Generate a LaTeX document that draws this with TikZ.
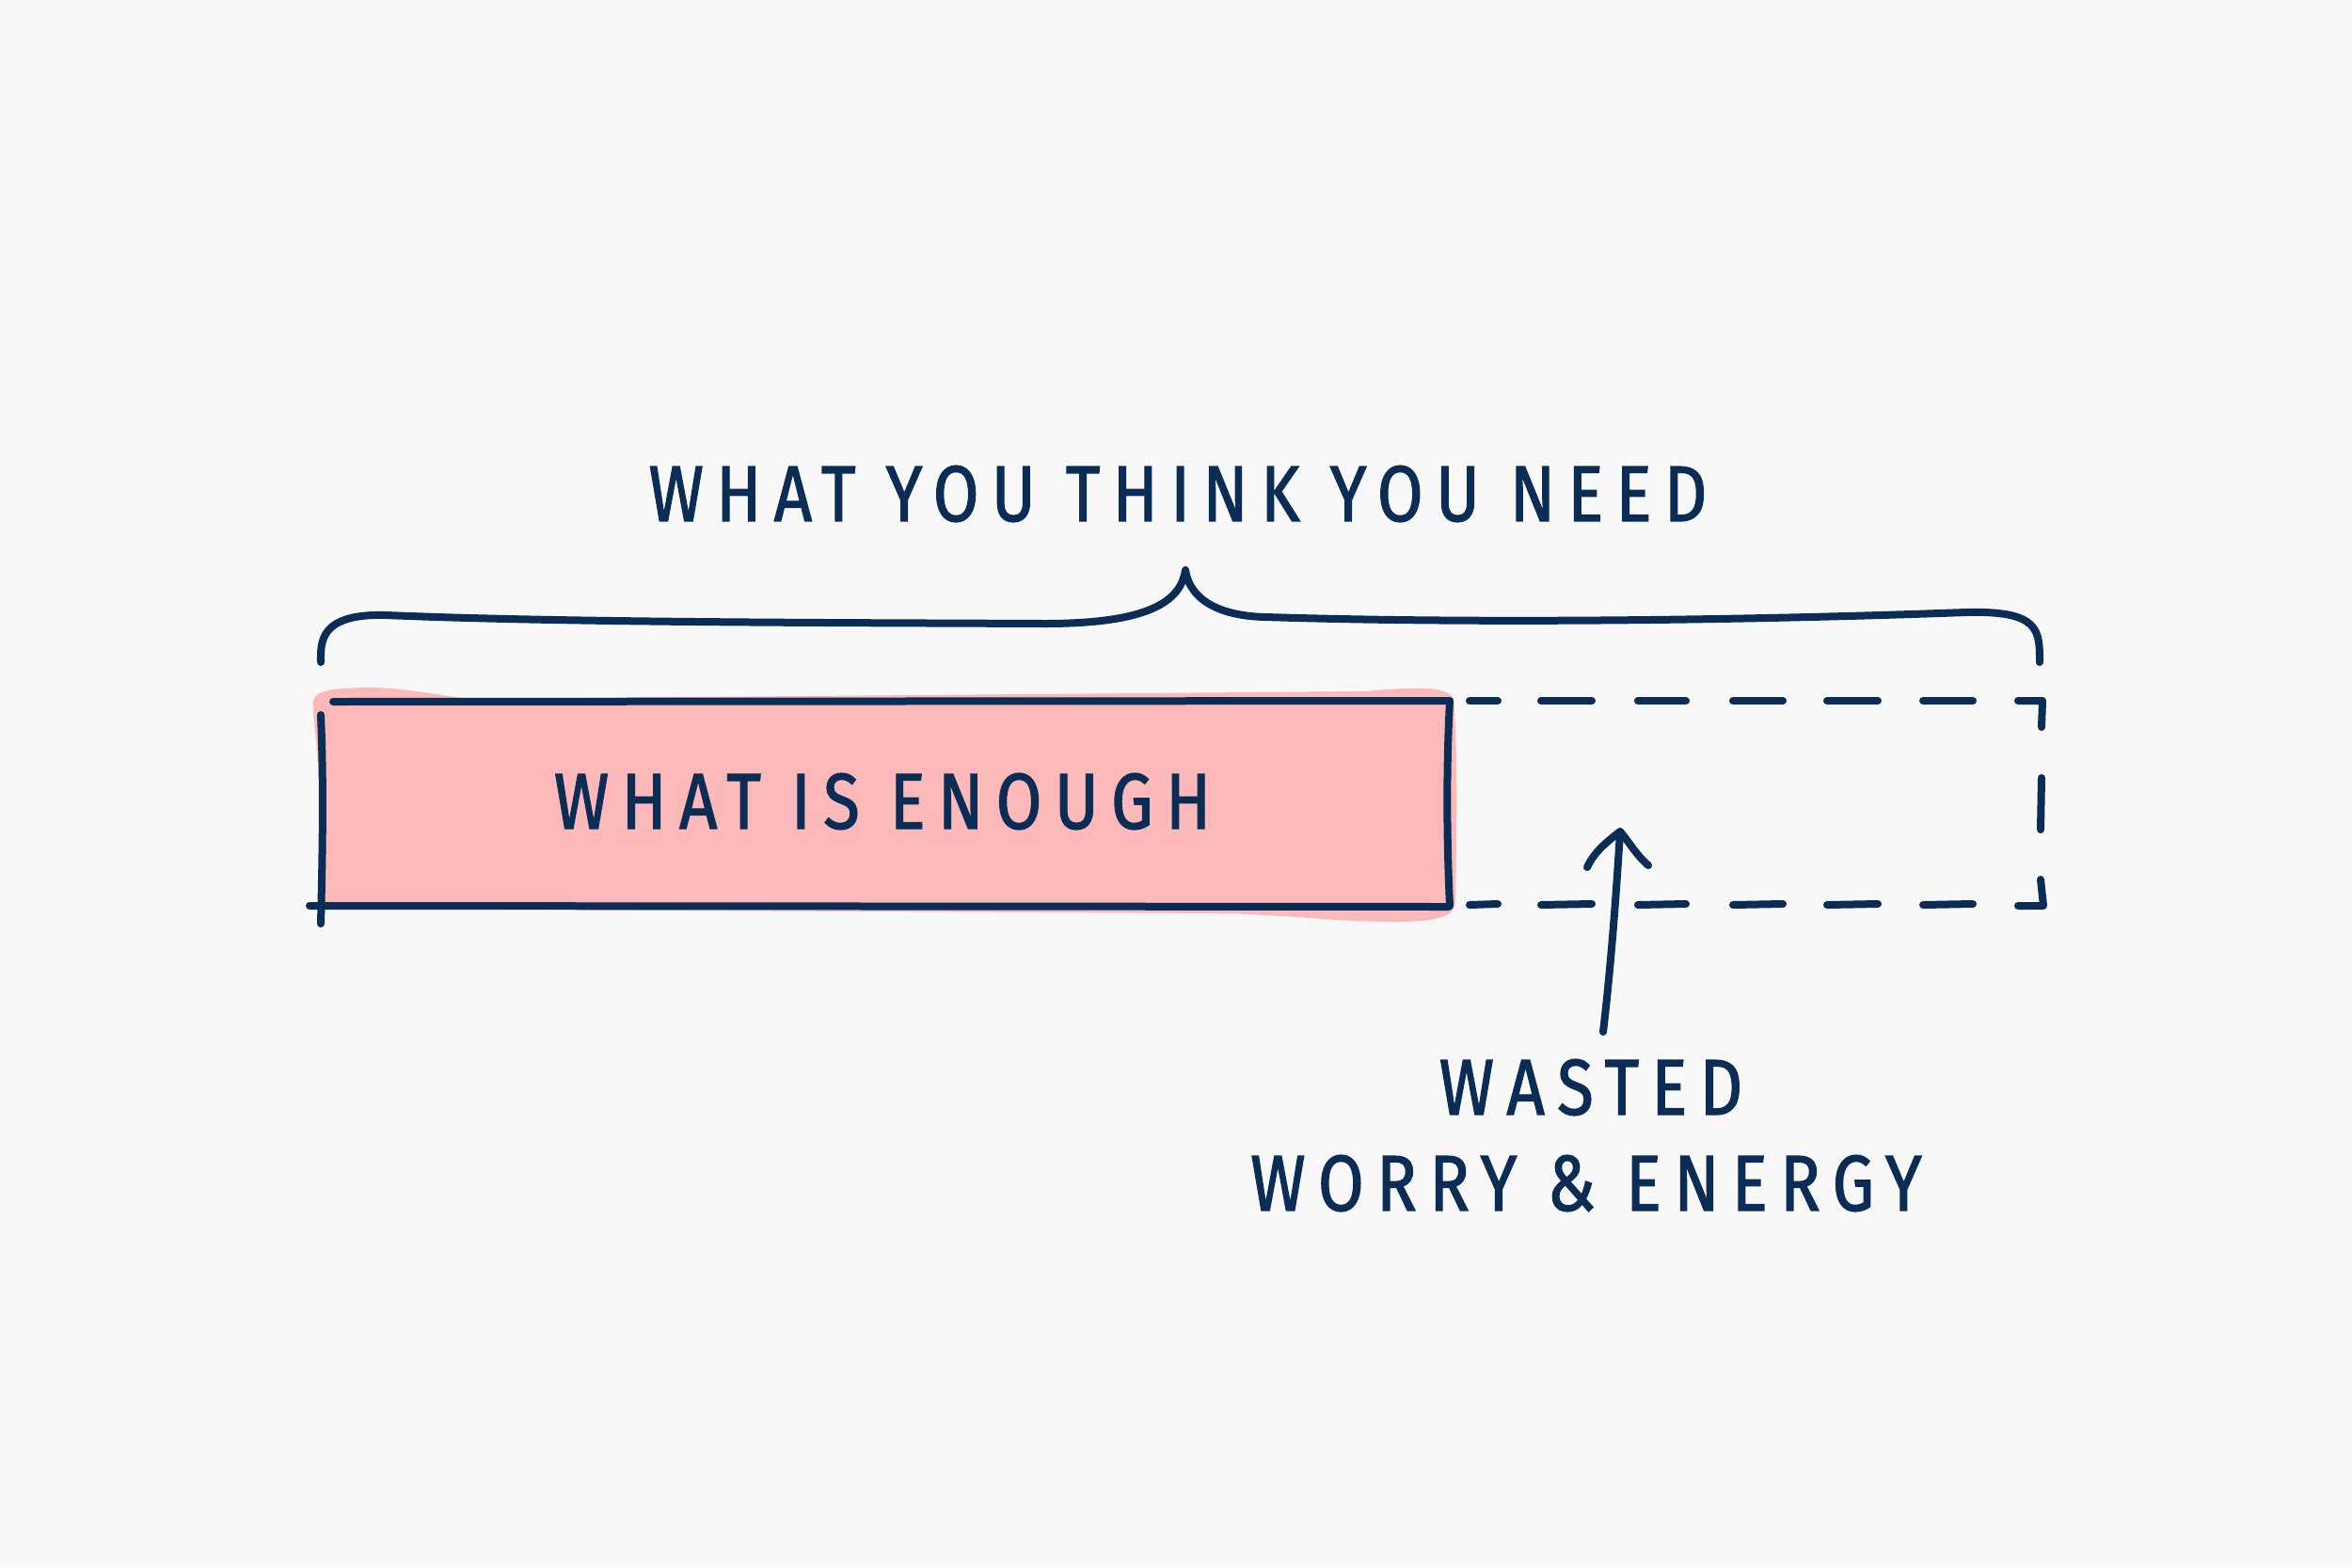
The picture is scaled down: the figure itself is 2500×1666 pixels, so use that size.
\documentclass[tikz,border=0pt]{standalone}
\usepackage{fontspec}
\setmainfont{Fira Sans}[FakeStretch=0.84, LetterSpace=16, FakeBold=1.5]
\definecolor{navy}{HTML}{0A2C55}
\definecolor{pinkfill}{HTML}{FBB9BA}
\definecolor{bgc}{HTML}{F8F8F8}
\begin{document}
\begin{tikzpicture}[x=1pt,y=-1pt,
  ink/.style={draw=navy,line width=8pt,line cap=round,line join=round},
  label/.style={text=navy,font=\fontsize{84}{96}\selectfont,inner sep=0pt,anchor=center,align=center}]
\fill[bgc] (0,0) rectangle (2500,1666);
\useasboundingbox (0,0) rectangle (2500,1666);
% pink blob
\fill[pinkfill] (333,752) .. controls (330,735) and (345,732) .. (390,731)
  .. controls (430,731) and (470,740) .. (500,743) -- (1450,735)
  .. controls (1500,731) and (1535,728) .. (1545,742)
  .. controls (1550,800) and (1548,900) .. (1547,960)
  .. controls (1546,982) and (1500,982) .. (1420,978)
  .. controls (1380,975) and (1340,972) .. (1300,971) -- (345,966)
  -- (341,860) .. controls (338,800) and (334,775) .. (333,752) -- cycle;
% text nodes
\node[label] (title) at (1252,525) {WHAT YOU THINK YOU NEED};
\node[label] (enough) at (938,852) {WHAT IS ENOUGH};
\node[label] (wasted) at (1691,1156) {WASTED};
\node[label] (worry) at (1686,1258) {WORRY \& ENERGY};
% brace
\draw[ink] (341,704) .. controls (341,684) and (338,652) .. (410,654)
  .. controls (600,662) and (900,662) .. (1110,663)
  .. controls (1220,663) and (1255,640) .. (1260,606)
  .. controls (1265,640) and (1300,655) .. (1345,656)
  .. controls (1600,664) and (1900,658) .. (2090,651)
  .. controls (2168,649) and (2168,670) .. (2168,704);
% solid box
\draw[ink] (354,746) -- (1540,745);
\draw[ink] (341,760) .. controls (344,830) and (343,900) .. (341,982);
\draw[ink] (329,963) -- (1540,964);
\draw[ink] (1541,745) .. controls (1537,820) and (1538,900) .. (1541,963);
% dashed extension
\foreach \a/\b in {1562/1592,1638/1692,1741/1792,1842/1895,1942/1996,2044/2097}{
  \draw[ink] (\a,745) -- (\b,745);
  \draw[ink] (\a,962) -- (\b,961);
}
\draw[ink] (2145,745) -- (2171,745) -- (2170,773);
\draw[ink] (2170,827) -- (2169,882);
\draw[ink] (2169,935) -- (2172,963) -- (2145,963);
% arrow
\coordinate (tail) at (1704,1097);
\coordinate (tip) at (1722,884);
\draw[ink] (tail) .. controls (1712,1030) and (1718,950) .. (tip);
\draw[ink] (1687,922) .. controls (1695,905) and (1708,895) .. (tip)
  .. controls (1730,893) and (1740,910) .. (1752,920);
\end{tikzpicture}
\end{document}
